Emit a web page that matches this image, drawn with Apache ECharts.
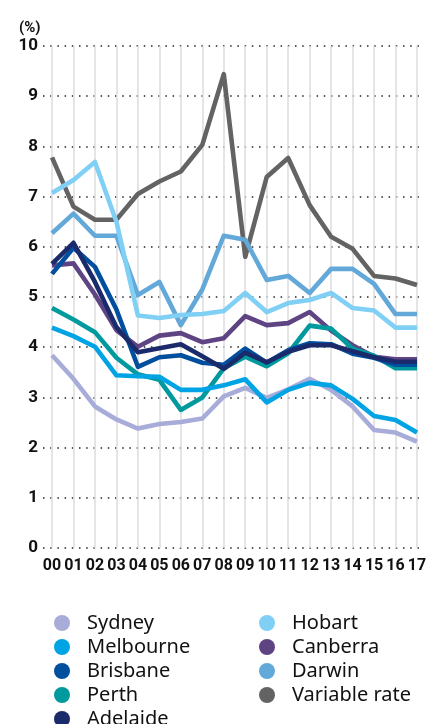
<!DOCTYPE html>
<html>
<head>
<meta charset="utf-8">
<script src="https://cdn.jsdelivr.net/npm/echarts@6/dist/echarts.min.js"></script>
<style>
  html, body { margin: 0; padding: 0; background: #fff; }
  #main { width: 430px; height: 724px; }
</style>
</head>
<body>
<div id="main"></div>
<script>
var years = ['00','01','02','03','04','05','06','07','08','09','10','11','12','13','14','15','16','17'];
var yTicks = [0, 10, 1]; // min, max, interval

var sydney    = [3.84, 3.37, 2.82, 2.56, 2.38, 2.47, 2.51, 2.58, 3.02, 3.19, 2.99, 3.16, 3.37, 3.15, 2.82, 2.35, 2.30, 2.12];
var melbourne = [4.39, 4.22, 4.01, 3.44, 3.42, 3.41, 3.15, 3.15, 3.24, 3.36, 2.90, 3.15, 3.29, 3.24, 2.97, 2.63, 2.55, 2.30];
var brisbane  = [5.46, 5.98, 5.60, 4.75, 3.61, 3.80, 3.84, 3.69, 3.65, 3.97, 3.69, 3.94, 4.08, 4.06, 3.87, 3.79, 3.65, 3.65];
var perth     = [4.78, 4.55, 4.30, 3.79, 3.46, 3.35, 2.75, 3.00, 3.58, 3.81, 3.62, 3.88, 4.43, 4.37, 3.97, 3.83, 3.58, 3.58];
var adelaide  = [5.66, 6.08, 5.30, 4.40, 3.90, 3.98, 4.06, 3.82, 3.57, 3.89, 3.70, 3.91, 4.04, 4.04, 3.92, 3.80, 3.71, 3.71];
var hobart    = [7.07, 7.33, 7.69, 6.50, 4.63, 4.58, 4.64, 4.66, 4.72, 5.08, 4.70, 4.88, 4.94, 5.08, 4.78, 4.73, 4.39, 4.39];
var canberra  = [5.63, 5.67, 5.05, 4.34, 4.01, 4.23, 4.28, 4.10, 4.18, 4.62, 4.44, 4.48, 4.70, 4.33, 4.04, 3.81, 3.76, 3.76];
var darwin    = [6.27, 6.66, 6.22, 6.22, 5.04, 5.30, 4.44, 5.15, 6.22, 6.14, 5.34, 5.42, 5.08, 5.56, 5.56, 5.26, 4.66, 4.66];
var variable  = [7.78, 6.80, 6.54, 6.54, 7.05, 7.30, 7.50, 8.03, 9.44, 5.80, 7.39, 7.77, 6.83, 6.20, 5.96, 5.42, 5.37, 5.24];

var names  = ['Sydney','Melbourne','Brisbane','Perth','Adelaide','Hobart','Canberra','Darwin','Variable rate'];
var values = [sydney, melbourne, brisbane, perth, adelaide, hobart, canberra, darwin, variable];
var colors = ['#a7acd9','#00a3e4','#004f9e','#00999e','#1b2a6b','#80cff5','#5f4484','#62a8d8','#636363'];

var myChart = echarts.init(document.getElementById('main'));

var series = [];
// draw back to front: variable rate and darwin first
[8, 7, 5, 6, 3, 2, 4, 0, 1].forEach(function (i) {
    series.push({
        name: names[i],
        type: 'line',
        xAxisIndex: 1,
        yAxisIndex: 1,
        data: values[i],
        symbol: 'none',
        color: colors[i],
        lineStyle: { width: 4.6, color: colors[i], join: 'round' }
    });
});

var legendText = {
    fontFamily: 'Noto Sans',
    fontSize: 20,
    color: '#111',
    padding: [0, 0, 0, 12]
};

var option = {
    animation: false,
    title: {
        text: '(%)',
        left: 14,
        top: 16,
        textStyle: { fontFamily: 'Roboto', fontWeight: 'bold', fontSize: 15, color: '#111' }
    },
    legend: [
        {
            data: names.slice(0, 5),
            orient: 'vertical',
            left: 49,
            top: 608,
            height: 140,
            icon: 'circle',
            itemWidth: 16,
            itemHeight: 16,
            itemGap: 4,
            textStyle: legendText
        },
        {
            data: names.slice(5),
            orient: 'vertical',
            left: 254,
            top: 608,
            height: 140,
            icon: 'circle',
            itemWidth: 16,
            itemHeight: 16,
            itemGap: 4,
            textStyle: legendText
        }
    ],
    grid: [
        { left: 43, right: 10, top: 46, bottom: 176 },   // dotted horizontal lines + y labels
        { left: 52, right: 13, top: 46, bottom: 176 }    // data
    ],
    xAxis: [
        { gridIndex: 0, type: 'value', min: 0, max: 1, show: false },
        {
            gridIndex: 1,
            type: 'category',
            data: years,
            boundaryGap: false,
            axisLine: { show: false },
            axisTick: { show: false },
            axisLabel: {
                interval: 0,
                margin: 10,
                fontFamily: 'Roboto',
                fontWeight: 'bold',
                fontSize: 16,
                color: '#111'
            },
            splitLine: { show: true, interval: 0, lineStyle: { color: '#dcdcdc', width: 1.5 } }
        }
    ],
    yAxis: [
        {
            gridIndex: 0,
            type: 'value',
            min: yTicks[0],
            max: yTicks[1],
            interval: yTicks[2],
            axisLine: { show: false },
            axisTick: { show: false },
            axisLabel: {
                margin: 5,
                fontFamily: 'Roboto',
                fontWeight: 'bold',
                fontSize: 17,
                color: '#111'
            },
            splitLine: { show: true, lineStyle: { color: '#222', width: 1.5, type: [1.5, 5.7] } }
        },
        {
            gridIndex: 1,
            type: 'value',
            min: yTicks[0],
            max: yTicks[1],
            interval: yTicks[2],
            show: false,
            splitLine: { show: false }
        }
    ],
    series: series
};

myChart.setOption(option);
</script>
</body>
</html>
